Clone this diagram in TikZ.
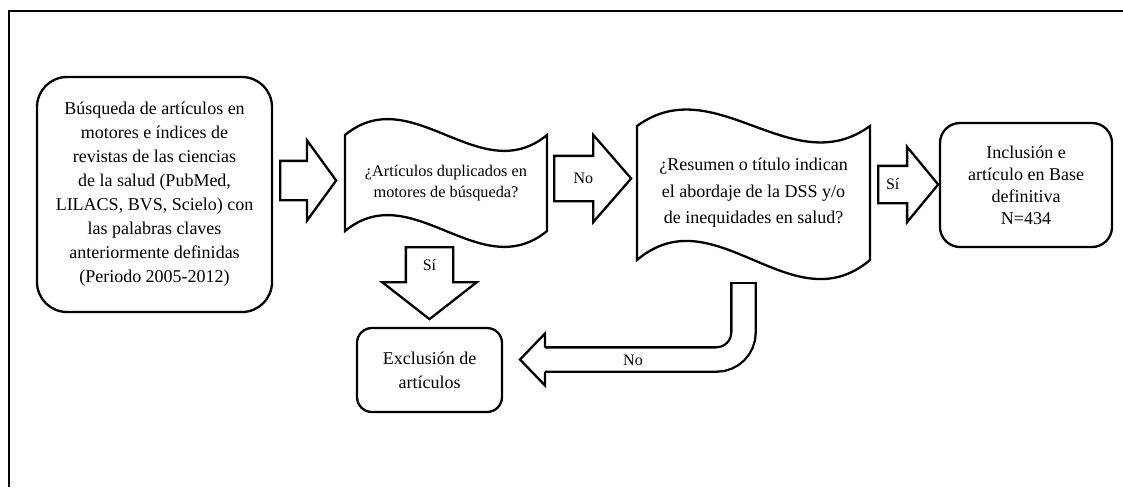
\documentclass[tikz,border=0pt]{standalone}
\usepackage{fontspec}
\setmainfont{Liberation Serif}
\usetikzlibrary{shapes,shapes.arrows,positioning,calc}

\begin{document}
\begin{tikzpicture}[x=1pt,y=-1pt]

	\tikzstyle{roundbox}=[draw, rectangle, line width=2.3pt, align=center, inner sep=0pt, font=\fontsize{18}{24}\selectfont];
	\tikzstyle{wavetext}=[rectangle, align=center, inner sep=0pt, outer sep=0pt, font=\fontsize{18}{26.5}\selectfont];
	\tikzstyle{waveline}=[draw, line width=2.3pt, line join=miter];
	\tikzstyle{blockarrow}=[draw, single arrow, line width=2.3pt, fill=white, inner xsep=0pt, single arrow head indent=0pt, anchor=tail];
	\tikzstyle{arrowtext}=[font=\fontsize{16}{20}\selectfont];

	\useasboundingbox (0,0) rectangle (1123,487);
	\draw[line width=2.5pt] (9,487) -- (9,11) -- (1123,11);

	\node (busqueda) at (154.5,194.5) [roundbox, minimum width=235pt, minimum height=235pt, rounded corners=30pt]{B\'usqueda de art\'iculos en\\motores e \'indices de\\revistas de las ciencias\\de la salud (PubMed,\\LILACS, BVS, Scielo) con\\las palabras claves\\anteriormente definidas\\(Periodo 2005-2012)};
	\node (duplicados) at (446,183) [wavetext, minimum width=202pt, minimum height=96pt, font=\fontsize{16.3}{21}\selectfont]{¿Art\'iculos duplicados en\\motores de b\'usqueda?};
	\node (resumen) at (753.5,193) [wavetext, minimum width=233pt, minimum height=134pt]{¿Resumen o t\'itulo indican\\el abordaje de la DSS y/o\\de inequidades en salud?};
	\node (inclusion) at (1026,185) [roundbox, minimum width=172pt, minimum height=124pt, rounded corners=20pt, font=\fontsize{18}{22}\selectfont]{Inclusi\'on e\\art\'iculo en Base\\definitiva\\N=434};
	\node (exclusion) at (429.5,370) [roundbox, minimum width=145pt, minimum height=84pt, rounded corners=15pt]{Exclusi\'on de\\art\'iculos};

	% wavy borders of the two questions
	\draw[waveline] (duplicados.north west) .. controls +(67,-55) and +(-67,55) .. (duplicados.north east)
		-- (duplicados.south east) .. controls +(-67,55) and +(67,-55) .. (duplicados.south west) -- cycle;
	\draw[waveline] (resumen.north west) .. controls +(78,-57) and +(-78,57) .. (resumen.north east)
		-- (resumen.south east) .. controls +(-78,66) and +(78,-66) .. (resumen.south west) -- cycle;

	% block arrows between the steps
	\node (a_busq) at (279,180.5) [blockarrow, inner ysep=18.5pt, single arrow head extend=20.5pt, single arrow tip angle=108, minimum height=56pt]{};
	\node (a_no) at (553,178.5) [blockarrow, inner ysep=21.5pt, single arrow head extend=21pt, single arrow tip angle=98, minimum height=77pt]{};
	\node (a_si) at (877,184.5) [blockarrow, inner ysep=17.5pt, single arrow head extend=19pt, single arrow tip angle=101, minimum height=60pt]{};
	\node (a_si_down) at (429.5,246) [blockarrow, shape border rotate=270, inner xsep=22.5pt, inner ysep=0pt, single arrow head extend=23.5pt, single arrow tip angle=104, minimum height=72pt]{};

	\node[arrowtext] (t_no) at ($(a_no.tail)!.38!(a_no.tip)$) {No};
	\node[arrowtext] (t_si) at ($(a_si.tail)!.25!(a_si.tip)$) {S\'i};
	\node[arrowtext] (t_si_down) at ($(a_si_down.tail)!.26!(a_si_down.tip)$) {S\'i};

	% bent arrow back to the exclusion
	\coordinate (bend_top) at (743.5,283);
	\coordinate (bend_end) at (545,359.5);
	\draw[line width=2.3pt, double distance=22pt, rounded corners=27pt] (bend_top) -- (bend_top |- bend_end) -- (bend_end);
	\draw[line width=2.3pt] ([xshift=-13.4pt]bend_top) -- ([xshift=13.4pt]bend_top);
	\draw[line width=2.3pt, line join=miter] ([yshift=-12pt]bend_end) -- ([yshift=-26pt]bend_end) -- ([xshift=-25pt]bend_end) -- ([yshift=26pt]bend_end) -- ([yshift=12pt]bend_end);
	\node[arrowtext] (t_no_bend) at (633,360) {No};

\end{tikzpicture}
\end{document}
